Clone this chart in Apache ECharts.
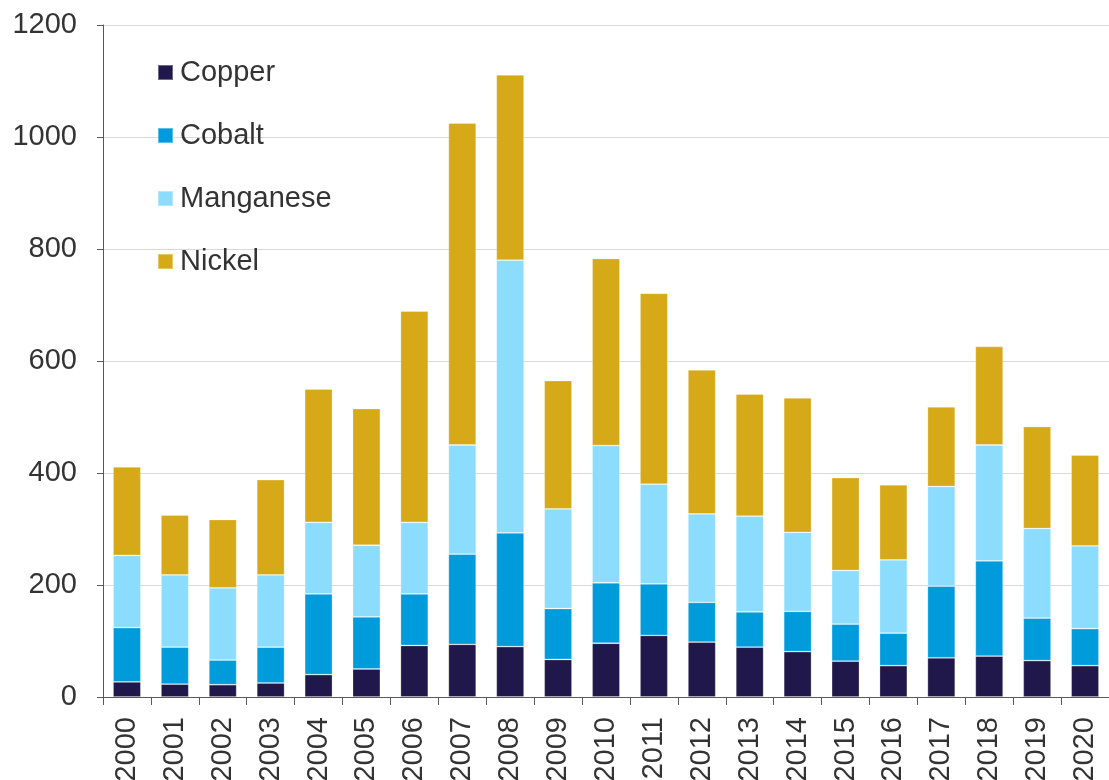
<!DOCTYPE html>
<html><head><meta charset="utf-8">
<script src="https://cdn.jsdelivr.net/npm/echarts@6/dist/echarts.min.js"></script>
<style>html,body{margin:0;padding:0;background:#fff}#c{width:1109px;height:780px}</style>
</head><body><div id="c"></div>
<script>
const years = ['2000','2001','2002','2003','2004','2005','2006','2007','2008','2009','2010','2011','2012','2013','2014','2015','2016','2017','2018','2019','2020'];
const copper =    [27,23,22,25,40,50,92,94,90,67,96,110,98,89,81,64,56,70,73,65,56];
const cobalt =    [97,66,44,64,144,93,92,161,203,91,108,92,71,63,72,66,58,128,170,76,66];
const manganese = [129,129,129,129,128,128,128,195,487,178,245,178,158,171,141,96,131,178,207,160,148];
const nickel =    [158,107,122,170,238,244,377,575,331,229,334,341,257,218,240,166,134,142,176,182,162];
const yTicks = [0,200,400,600,800,1000,1200];

const colors = {Copper:'#20184a', Cobalt:'#009bdb', Manganese:'#8cdcfe', Nickel:'#d5a918'};
const font = 'Liberation Sans, Arial, sans-serif';
function s(name, data){
  return {name, type:'bar', stack:'t', data, barWidth:'58%',
    itemStyle:{color:colors[name], borderColor:'rgba(255,255,255,0.35)', borderWidth:0.8}};
}
const chart = echarts.init(document.getElementById('c'), null, {renderer:'canvas'});
chart.setOption({
  animation:false,
  grid:{left:103, right:0, top:25, bottom:83, containLabel:false, outerBoundsMode:'none'},
  legend:{orient:'vertical', left:152, top:53, itemWidth:15, itemHeight:15, itemGap:34,
    icon:'rect', textStyle:{fontFamily:font, fontSize:29, color:'#333333', padding:[0,0,0,2]},
    data:['Copper','Cobalt','Manganese','Nickel']},
  xAxis:{type:'category', data:years, boundaryGap:true,
    axisLine:{lineStyle:{color:'#595959', width:1}},
    axisTick:{show:true, length:8, lineStyle:{color:'#595959'}},
    axisLabel:{rotate:90, margin:20, fontFamily:font, fontSize:29, color:'#333333'}},
  yAxis:{type:'value', min:yTicks[0], max:yTicks[yTicks.length-1], interval:200,
    axisLine:{show:true, lineStyle:{color:'#595959', width:1}},
    axisTick:{show:true, length:6, lineStyle:{color:'#595959'}},
    splitLine:{lineStyle:{color:'#d9d9d9', width:1}},
    axisLabel:{margin:26, fontFamily:font, fontSize:29, color:'#333333', formatter:v=>String(v)}},
  series:[s('Copper',copper), s('Cobalt',cobalt), s('Manganese',manganese), s('Nickel',nickel)]
});
</script></body></html>
